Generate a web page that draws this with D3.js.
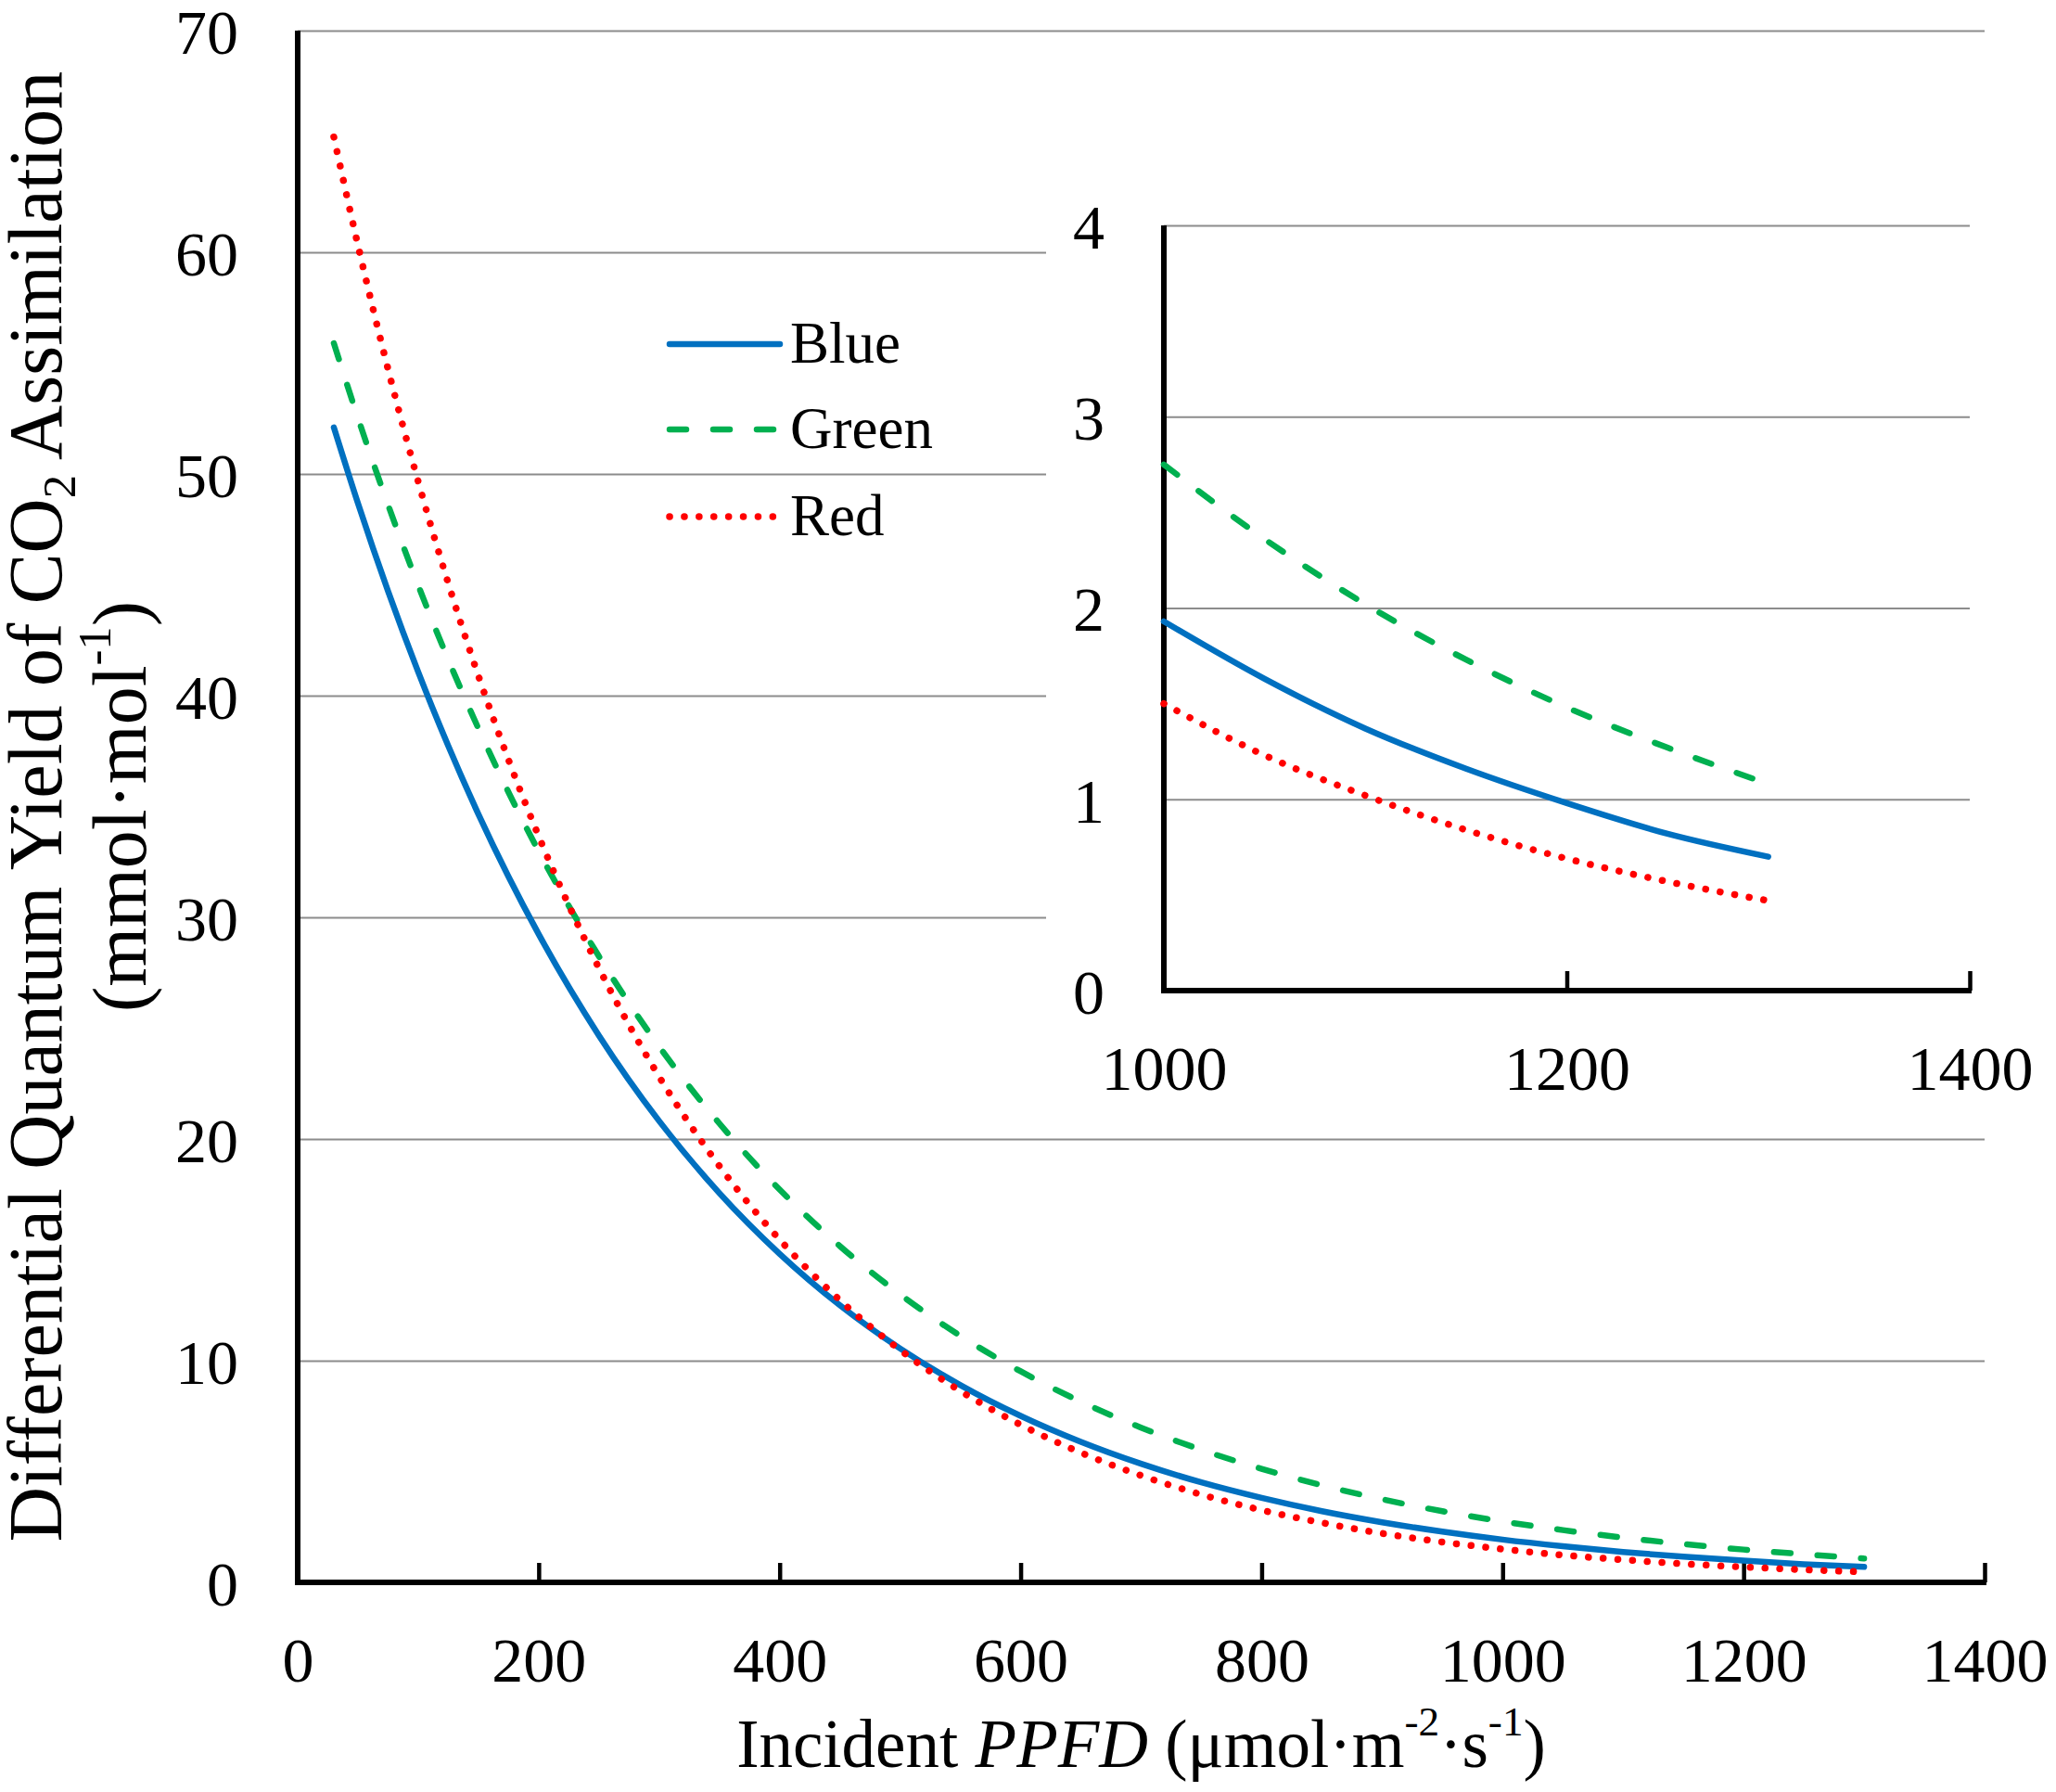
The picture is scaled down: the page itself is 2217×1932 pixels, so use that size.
<!DOCTYPE html>
<html>
<head>
<meta charset="utf-8">
<script src="https://cdn.jsdelivr.net/npm/d3@7"></script>
<style>
  html, body { margin: 0; padding: 0; background: #fff; }
  svg { display: block; font-family: "Liberation Serif", "Times New Roman", serif; }
</style>
</head>
<body>
<svg id="chart" width="2217" height="1932"></svg>
<script>
// ---- data ----
const ppfd = [30,50,75,100,125,150,175,200,250,300,350,400,450,500,550,600,650,700,750,800,850,900,950,1000,1050,1100,1150,1200,1250,1300];
const blueVals  = [52.1,48.68,44.71,41.07,37.73,34.65,31.83,29.24,24.67,20.81,17.56,14.82,12.50,10.55,8.90,7.51,6.34,5.35,4.51,3.81,3.21,2.71,2.29,1.93,1.63,1.37,1.16,0.98,0.82,0.70];
const greenVals = [55.9,52.53,48.61,44.98,41.62,38.52,35.64,32.98,28.24,24.17,20.70,17.72,15.17,12.99,11.12,9.52,8.15,6.98,5.98,5.12,4.38,3.75,3.21,2.75,2.36,2.02,1.73,1.48,1.27,1.08];
const redVals   = [65.2,60.32,54.73,49.66,45.06,40.89,37.10,33.66,27.71,22.81,18.78,15.46,12.73,10.48,8.63,7.11,5.85,4.82,3.96,3.26,2.69,2.21,1.82,1.50,1.23,1.02,0.84,0.69,0.57,0.47];
const seriesNames = ["Blue", "Green", "Red"];
const mainXTicks = [0,200,400,600,800,1000,1200,1400];
const mainYTicks = [0,10,20,30,40,50,60,70];
const insetXTicks = [1000,1200,1400];
const insetYTicks = [0,1,2,3,4];

// ---- styles ----
const styles = {
  Blue:  { color: "#0070C0", width: 6.5, dash: null, cap: "round" },
  Green: { color: "#00B050", width: 6.5, dash: "18,29", cap: "round" },
  Red:   { color: "#FF0000", width: 7.5, dash: "0.1,15.8", cap: "round" }
};
const gridColor = "#8c8c8c";
const FS_TICK = 68;

const series = seriesNames.map((name, i) => ({
  name,
  values: ppfd.map((x, j) => ({ x, y: [blueVals, greenVals, redVals][i][j] }))
}));

const svg = d3.select("#chart");
svg.append("rect").attr("width", 2217).attr("height", 1932).attr("fill", "#fff");

// ---- main chart ----
const x = d3.scaleLinear().domain([0, 1400]).range([321, 2140]);
const y = d3.scaleLinear().domain([0, 70]).range([1706, 33]);

// gridlines
svg.append("g")
  .attr("transform", `translate(${x(0)},0)`)
  .call(d3.axisLeft(y).tickValues(mainYTicks.filter(v => v > 0)).tickSize(-(x(1400) - x(0))).tickFormat(""))
  .call(g => g.select(".domain").remove())
  .call(g => g.selectAll(".tick line").attr("stroke", gridColor).attr("stroke-width", 2));

// y tick labels
svg.append("g")
  .attr("transform", `translate(${x(0)},0)`)
  .call(d3.axisLeft(y).tickValues(mainYTicks).tickSize(0).tickPadding(64).tickFormat(d3.format("d")))
  .call(g => g.select(".domain").remove())
  .call(g => g.selectAll("text").attr("font-size", FS_TICK).attr("font-family", "Liberation Serif").attr("fill", "#000").attr("dy", "0.36em"));

// x axis
svg.append("g")
  .attr("transform", `translate(0,${y(0)})`)
  .call(d3.axisBottom(x).tickValues(mainXTicks).tickSizeInner(-21).tickSizeOuter(0).tickPadding(59).tickFormat(d3.format("d")))
  .call(g => g.select(".domain").remove())
  .call(g => g.selectAll(".tick line").attr("stroke", "#000").attr("stroke-width", 4.5))
  .call(g => g.selectAll("text").attr("font-size", FS_TICK).attr("font-family", "Liberation Serif").attr("fill", "#000"));

// axis lines
svg.append("line").attr("x1", x(0)).attr("x2", x(1400) + 2).attr("y1", y(0)).attr("y2", y(0))
  .attr("stroke", "#000").attr("stroke-width", 6);
svg.append("line").attr("x1", x(0)).attr("x2", x(0)).attr("y1", y(70)).attr("y2", y(0) + 3)
  .attr("stroke", "#000").attr("stroke-width", 6);

const lineMain = d3.line().x(d => x(d.x)).y(d => y(d.y)).curve(d3.curveMonotoneX);
svg.append("g").selectAll("path").data(series).join("path")
  .attr("d", d => lineMain(d.values))
  .attr("fill", "none")
  .attr("stroke", d => styles[d.name].color)
  .attr("stroke-width", d => styles[d.name].width)
  .attr("stroke-dasharray", d => styles[d.name].dash)
  .attr("stroke-linecap", d => styles[d.name].cap)
  .attr("stroke-linejoin", "round");

// legend
const legend = svg.append("g");
const legY = [371, 463, 557];
series.forEach((s, i) => {
  const st = styles[s.name];
  legend.append("line")
    .attr("x1", 722).attr("x2", 841).attr("y1", legY[i]).attr("y2", legY[i])
    .attr("stroke", st.color).attr("stroke-width", st.width)
    .attr("stroke-dasharray", st.dash).attr("stroke-linecap", st.cap);
  legend.append("text")
    .attr("x", 852).attr("y", legY[i] + 20)
    .attr("font-size", 63).attr("fill", "#000")
    .text(s.name);
});

// axis titles
const xTitle = svg.append("text")
  .attr("x", (x(0) + x(1400)) / 2).attr("y", 1905)
  .attr("text-anchor", "middle").attr("font-size", 73).attr("fill", "#000");
xTitle.append("tspan").text("Incident ");
xTitle.append("tspan").attr("font-style", "italic").text("PPFD");
xTitle.append("tspan").text(" (μmol·m");
xTitle.append("tspan").attr("font-size", "0.62em").attr("dy", "-0.75em").text("-2");
xTitle.append("tspan").attr("dy", "0.465em").text("·s");
xTitle.append("tspan").attr("font-size", "0.62em").attr("dy", "-0.75em").text("-1");
xTitle.append("tspan").attr("dy", "0.465em").text(")");

const yMid = (y(0) + y(70)) / 2;
const yTitle1 = svg.append("text")
  .attr("transform", `translate(66,${yMid}) rotate(-90)`)
  .attr("text-anchor", "middle").attr("font-size", 82).attr("fill", "#000");
yTitle1.append("tspan").text("Differential Quantum Yield of CO");
yTitle1.append("tspan").attr("font-size", "0.62em").attr("dy", "0.3em").text("2");
yTitle1.append("tspan").attr("dy", "-0.186em").text(" Assimilation");

const yTitle2 = svg.append("text")
  .attr("transform", `translate(157,${yMid}) rotate(-90)`)
  .attr("text-anchor", "middle").attr("font-size", 82).attr("fill", "#000");
yTitle2.append("tspan").text("(mmol·mol");
yTitle2.append("tspan").attr("font-size", "0.62em").attr("dy", "-0.75em").text("-1");
yTitle2.append("tspan").attr("dy", "0.465em").text(")");

// ---- inset ----
const xi = d3.scaleLinear().domain([1000, 1400]).range([1255, 2124]);
const yi = d3.scaleLinear().domain([0, 4]).range([1068, 243]);
const inset = svg.append("g");
inset.append("rect").attr("x", 1128).attr("y", 110).attr("width", 2217 - 1128).attr("height", 1205 - 110).attr("fill", "#fff");

inset.append("g")
  .attr("transform", `translate(${xi(1000)},0)`)
  .call(d3.axisLeft(yi).tickValues(insetYTicks.filter(v => v > 0)).tickSize(-(xi(1400) - xi(1000))).tickFormat(""))
  .call(g => g.select(".domain").remove())
  .call(g => g.selectAll(".tick line").attr("stroke", gridColor).attr("stroke-width", 2));

inset.append("g")
  .attr("transform", `translate(${xi(1000)},0)`)
  .call(d3.axisLeft(yi).tickValues(insetYTicks).tickSize(0).tickPadding(64).tickFormat(d3.format("d")))
  .call(g => g.select(".domain").remove())
  .call(g => g.selectAll("text").attr("font-size", FS_TICK).attr("font-family", "Liberation Serif").attr("fill", "#000").attr("dy", "0.36em"));

inset.append("g")
  .attr("transform", `translate(0,${yi(0)})`)
  .call(d3.axisBottom(xi).tickValues(insetXTicks).tickSizeInner(-21).tickSizeOuter(0).tickPadding(59).tickFormat(d3.format("d")))
  .call(g => g.select(".domain").remove())
  .call(g => g.selectAll(".tick line").attr("stroke", "#000").attr("stroke-width", 4.5))
  .call(g => g.selectAll("text").attr("font-size", FS_TICK).attr("font-family", "Liberation Serif").attr("fill", "#000"));

inset.append("line").attr("x1", xi(1000)).attr("x2", xi(1400) + 2).attr("y1", yi(0)).attr("y2", yi(0))
  .attr("stroke", "#000").attr("stroke-width", 6);
inset.append("line").attr("x1", xi(1000)).attr("x2", xi(1000)).attr("y1", yi(4)).attr("y2", yi(0) + 3)
  .attr("stroke", "#000").attr("stroke-width", 6);

const lineInset = d3.line().x(d => xi(d.x)).y(d => yi(d.y)).curve(d3.curveMonotoneX);
inset.append("g").selectAll("path").data(series).join("path")
  .attr("d", d => lineInset(d.values.filter(p => p.x >= 1000)))
  .attr("fill", "none")
  .attr("stroke", d => styles[d.name].color)
  .attr("stroke-width", d => styles[d.name].width)
  .attr("stroke-dasharray", d => styles[d.name].dash)
  .attr("stroke-linecap", d => styles[d.name].cap)
  .attr("stroke-linejoin", "round");
</script>
</body>
</html>
